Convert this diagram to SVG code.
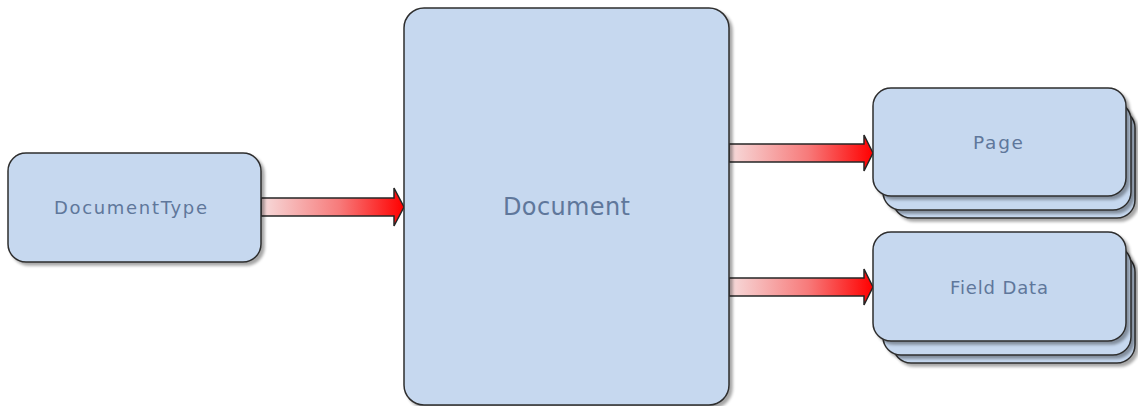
<svg xmlns="http://www.w3.org/2000/svg" width="1138" height="406" viewBox="0 0 1138 406">
<defs>
<linearGradient id="red" x1="0" y1="0" x2="1" y2="0">
<stop offset="0" stop-color="#f6dcdc"/>
<stop offset="0.55" stop-color="#f77a7a"/>
<stop offset="1" stop-color="#ff0000"/>
</linearGradient>
<filter id="sh" x="-10%" y="-10%" width="120%" height="120%">
<feGaussianBlur in="SourceAlpha" stdDeviation="1.5"/>
<feOffset dx="3" dy="3" result="b"/>
<feComponentTransfer><feFuncA type="linear" slope="0.35"/></feComponentTransfer>
<feMerge><feMergeNode/><feMergeNode in="SourceGraphic"/></feMerge>
</filter>
</defs>
<style>
.box{fill:#c6d8ef;stroke:#2e2e2e;stroke-width:1.5;filter:url(#sh)}
.arr{fill:url(#red);stroke:#262626;stroke-width:1.5;stroke-linejoin:miter}
.lbl{font-family:"DejaVu Sans","Liberation Sans",Arial,sans-serif;fill:#5f779b;text-anchor:start}
</style>
<rect width="1138" height="406" fill="#ffffff"/>
<g id="connectors">
<polygon class="arr" points="261,198 394,198 394,188 404,207 394,226 394,216 261,216"/>
<polygon class="arr" points="729,144 864,144 864,135 873,153 864,171 864,162 729,162"/>
<polygon class="arr" points="729,278 864,278 864,269 873,287 864,305 864,296 729,296"/>
</g>
<g id="node-documenttype">
<rect class="box" x="8" y="153" width="253" height="109" rx="18" ry="18"/>
<text class="lbl" x="54" y="213.5" font-size="18" textLength="153" lengthAdjust="spacing">DocumentType</text>
</g>
<g id="node-document">
<rect class="box" x="404" y="8" width="325" height="397" rx="20" ry="20"/>
<text class="lbl" x="503" y="214.5" font-size="24" textLength="127" lengthAdjust="spacing">Document</text>
</g>
<g id="node-page">
<rect class="box" x="893" y="110" width="242" height="108" rx="18" ry="18"/>
<rect class="box" x="883" y="102" width="248" height="108" rx="18" ry="18"/>
<rect class="box" x="873" y="88" width="253" height="108" rx="18" ry="18"/>
<text class="lbl" x="973" y="148.5" font-size="18.5" textLength="50" lengthAdjust="spacing">Page</text>
</g>
<g id="node-fielddata">
<rect class="box" x="893" y="254" width="242" height="109" rx="18" ry="18"/>
<rect class="box" x="883" y="246" width="248" height="109" rx="18" ry="18"/>
<rect class="box" x="873" y="232" width="253" height="109" rx="18" ry="18"/>
<text class="lbl" x="950" y="293.5" font-size="18" textLength="98" lengthAdjust="spacing">Field Data</text>
</g>
</svg>
